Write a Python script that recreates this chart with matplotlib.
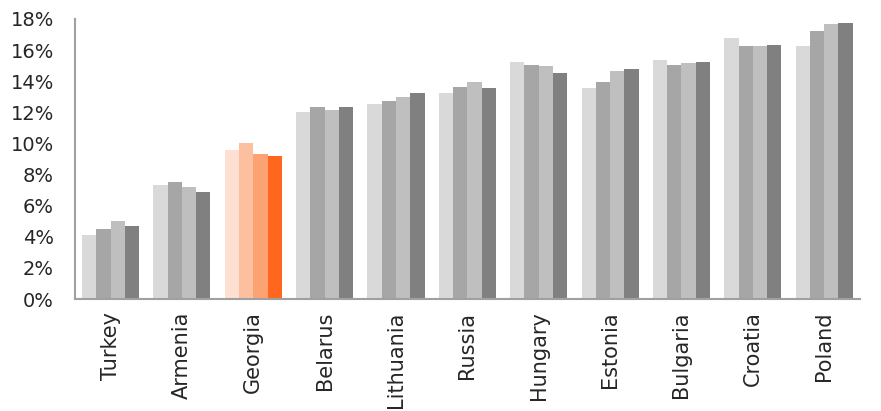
import matplotlib.pyplot as plt
import numpy as np

countries = ['Turkey', 'Armenia', 'Georgia', 'Belarus', 'Lithuania', 'Russia',
             'Hungary', 'Estonia', 'Bulgaria', 'Croatia', 'Poland']

# four series per country (values in %)
s1 = [4.1, 7.3, 9.6, 12.0, 12.55, 13.25, 15.25, 13.55, 15.35, 16.75, 16.25]
s2 = [4.5, 7.5, 10.05, 12.35, 12.75, 13.65, 15.05, 13.95, 15.05, 16.25, 17.25]
s3 = [5.0, 7.2, 9.35, 12.15, 13.0, 13.95, 14.95, 14.65, 15.15, 16.25, 17.65]
s4 = [4.7, 6.9, 9.2, 12.35, 13.25, 13.55, 14.55, 14.75, 15.25, 16.35, 17.75]

grey_colors = ['#d9d9d9', '#a6a6a6', '#bfbfbf', '#808080']
orange_colors = ['#fde0d1', '#fcc0a1', '#fda272', '#ff671f']
highlight = 'Georgia'

plt.rcParams['font.family'] = ['DejaVu Sans']

fig = plt.figure(figsize=(8.81, 4.11), dpi=100)
ax = fig.add_axes([0.085, 0.2725, 0.891, 0.6815])

x = np.arange(len(countries))
w = 0.2
for i, vals in enumerate([s1, s2, s3, s4]):
    cols = [orange_colors[i] if c == highlight else grey_colors[i] for c in countries]
    ax.bar(x + (i - 1.5) * w, vals, width=w, color=cols, edgecolor='none')

ax.set_xlim(-0.5, 10.5)
ax.set_ylim(0, 18)
ax.set_yticks(range(0, 19, 2))
ax.set_yticklabels([f'{v}%' for v in range(0, 19, 2)])
ax.set_xticks(x)
ax.set_xticklabels(countries, rotation=90)
ax.tick_params(axis='both', length=0, colors='#262626')
ax.tick_params(axis='x', pad=9, labelsize=15)
ax.tick_params(axis='y', pad=15, labelsize=14)

for s in ['top', 'right']:
    ax.spines[s].set_visible(False)
for s in ['left', 'bottom']:
    ax.spines[s].set_color('#a0a0a0')
    ax.spines[s].set_linewidth(1.5)

fig.savefig('out.png', dpi=100)
